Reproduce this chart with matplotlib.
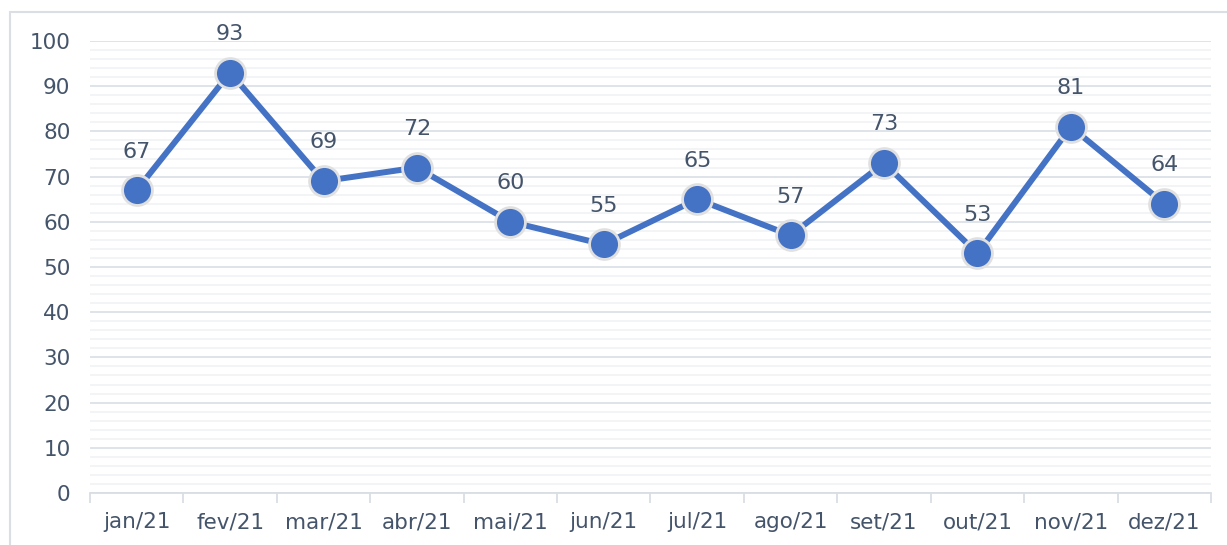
import matplotlib.pyplot as plt
from matplotlib.patches import Rectangle
from matplotlib.ticker import MultipleLocator, FixedLocator, NullFormatter

# Monthly values
months = ['jan/21', 'fev/21', 'mar/21', 'abr/21', 'mai/21', 'jun/21',
          'jul/21', 'ago/21', 'set/21', 'out/21', 'nov/21', 'dez/21']
values = [67, 93, 69, 72, 60, 55, 65, 57, 73, 53, 81, 64]

text_color = '#44546A'
line_color = '#4472C4'

plt.rcParams['font.family'] = ['DejaVu Sans']

fig = plt.figure(figsize=(12.27, 5.45), dpi=100)
ax = fig.add_axes([0.0733, 0.0954, 0.9137, 0.8294])

# light outer frame
fig.patches.append(Rectangle((10 / 1227, -0.1), 1.2, 1 - 12 / 545 + 0.1,
                             transform=fig.transFigure, fill=False,
                             edgecolor='#DADFE6', linewidth=1.5))

x = list(range(len(months)))
ax.plot(x, values, color=line_color, linewidth=4.3, marker='o',
        markersize=21.5, markerfacecolor=line_color,
        markeredgecolor='#E0E0E0', markeredgewidth=2,
        solid_capstyle='round', zorder=3)

for xi, v in zip(x, values):
    ax.annotate(str(v), (xi, v), xytext=(0, 23.5), textcoords='offset points',
                ha='center', va='baseline', fontsize=16, color=text_color)

ax.set_xlim(-0.5, len(months) - 0.5)
ax.set_ylim(0, 100)

ax.yaxis.set_major_locator(MultipleLocator(10))
ax.yaxis.set_minor_locator(MultipleLocator(2))
ax.grid(axis='y', which='major', color='#DCE1E8', linewidth=1.3)
ax.grid(axis='y', which='minor', color='#F1F3F6', linewidth=1.3)
ax.set_axisbelow(True)

ax.set_xticks(x)
ax.set_xticklabels(months)
ax.xaxis.set_minor_locator(FixedLocator([i - 0.5 for i in range(len(months) + 1)]))
ax.xaxis.set_minor_formatter(NullFormatter())
ax.tick_params(axis='x', which='major', length=0, pad=14, labelsize=15.5,
               labelcolor=text_color)
ax.tick_params(axis='x', which='minor', length=7, width=1.3, color='#D9DEE5')
ax.tick_params(axis='y', which='both', length=0, pad=14, labelsize=15.5,
               labelcolor=text_color)

for side in ['top', 'right', 'left']:
    ax.spines[side].set_visible(False)
ax.spines['bottom'].set_color('#D9DEE5')
ax.spines['bottom'].set_linewidth(1.3)

fig.savefig('out.png', dpi=100)
